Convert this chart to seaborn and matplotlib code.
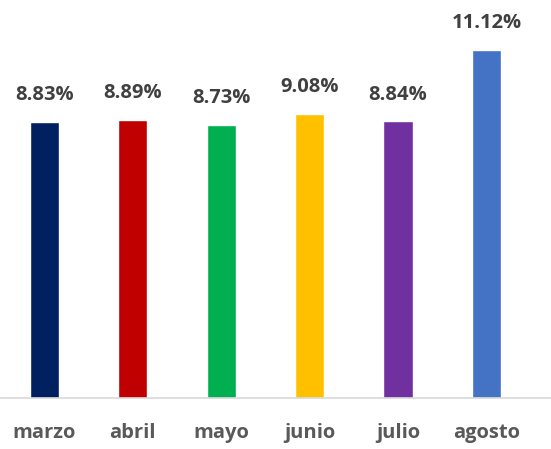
import matplotlib
matplotlib.use("Agg")
import matplotlib.pyplot as plt
import seaborn as sns
import pandas as pd

# datos
meses = ["marzo", "abril", "mayo", "junio", "julio", "agosto"]
valores = [8.83, 8.89, 8.73, 9.08, 8.84, 11.12]
colores = ["#002060", "#C00000", "#00B050", "#FFC000", "#7030A0", "#4472C4"]

df = pd.DataFrame({"mes": meses, "valor": valores})

sns.set_style("white")
plt.rcParams["font.family"] = ["Open Sans", "DejaVu Sans"]

fig = plt.figure(figsize=(5.51, 4.49), dpi=100)
ax = fig.add_axes([0, 51 / 449, 1, 398 / 449])

sns.barplot(data=df, x="mes", y="valor", hue="mes", palette=colores,
            width=0.33, legend=False, ax=ax, saturation=1)

for cont in ax.containers:
    ax.bar_label(cont, fmt="%.2f%%", padding=12, fontsize=14.5,
                 fontweight="bold", color="#404040")

ax.set_xlim(-0.5, 5.73)
ax.set_ylim(0, 12.72)
ax.set_xlabel("")
ax.set_ylabel("")
ax.set_yticks([])
for s in ["top", "right", "left"]:
    ax.spines[s].set_visible(False)
ax.spines["bottom"].set_color("#D9D9D9")
ax.spines["bottom"].set_linewidth(1.2)
ax.tick_params(axis="x", length=0, pad=18, labelsize=14.5, labelcolor="#595959")
for t in ax.get_xticklabels():
    t.set_fontweight("bold")

fig.savefig("out.png", dpi=100)
